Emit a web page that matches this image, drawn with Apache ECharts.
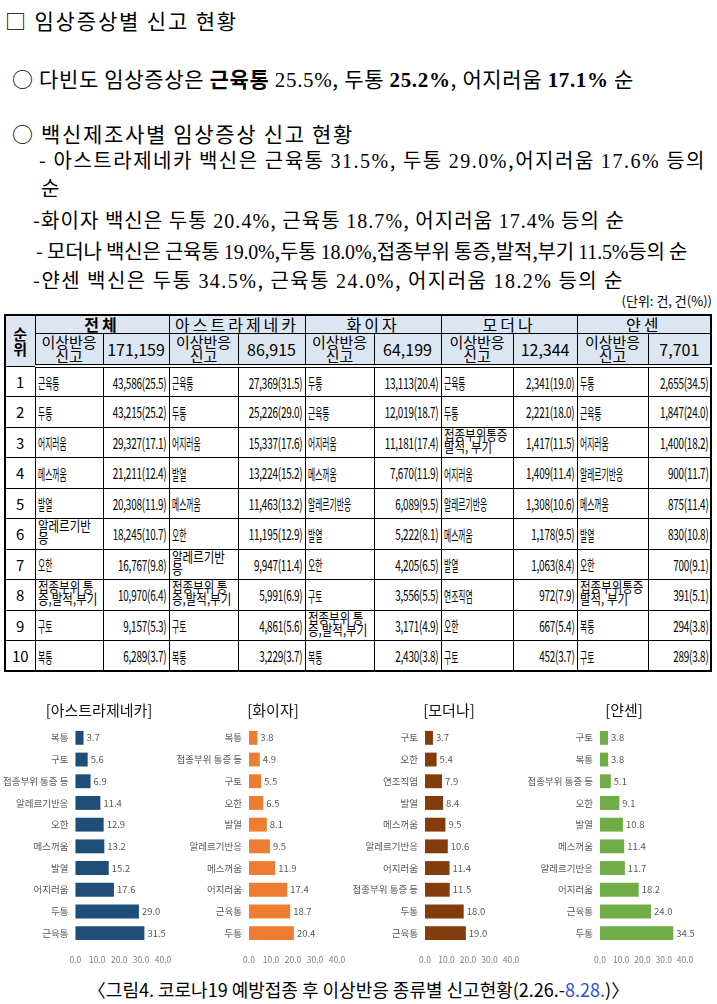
<!DOCTYPE html>
<html>
<head>
<meta charset="utf-8">
<script src="https://cdn.jsdelivr.net/npm/echarts@6/dist/echarts.min.js"></script>
<style>
body{margin:0;background:#fff;}
#page{position:relative;width:717px;height:1004px;overflow:hidden;font-family:"Noto Sans CJK KR",sans-serif;color:#000;}
.ln{position:absolute;white-space:nowrap;line-height:24px;font-size:20px;}
.n{font-family:"Liberation Serif",serif;}
#tbl{position:absolute;left:4px;top:314px;width:706px;border-collapse:collapse;table-layout:fixed;border:2px solid #000;}
#tbl td,#tbl th{border:1px solid #000;padding:0;overflow:hidden;}
#tbl th{background:#dce6f1;font-weight:normal;}
#tbl .grp{font-size:16px;letter-spacing:3px;height:17px;line-height:17px;}
#tbl .rk{font-size:15px;font-weight:bold;line-height:15px;}
#tbl .sub{font-size:15px;line-height:14px;height:30px;border-bottom:4px double #000;}
#tbl .tot{font-size:16px;border-bottom:4px double #000;}
#tbl tbody tr{height:30.5px;}
#tbl .no{text-align:center;font-size:15px;}
#tbl .nm{text-align:left;padding-left:2px;}
.c{display:inline-block;white-space:nowrap;font-size:15px;line-height:13px;transform:scaleX(.52);transform-origin:left center;}
.c2{display:inline-block;white-space:nowrap;font-size:14px;line-height:12px;transform:scaleX(.82);transform-origin:left center;}
.vw{display:flex;justify-content:flex-end;padding-right:2px;}
.cv{flex:none;white-space:nowrap;font-size:15px;transform:scaleX(.66);transform-origin:right center;letter-spacing:-0.3px;}
#charts{position:absolute;left:0;top:690px;width:717px;height:285px;}
#cap{position:absolute;left:0;width:717px;top:977px;text-align:center;font-size:18px;line-height:24px;white-space:nowrap;}
</style>
</head>
<body>
<div id="page">
  <div class="ln" style="left:5px;top:8px;font-size:21px;" data-w="233">□ 임상증상별 신고 현황</div>
  <div class="ln" style="left:12px;top:66px;font-size:21px;" data-w="622">○ 다빈도 임상증상은 <b>근육통</b> <span class="n">25.5%</span>, 두통 <b class="n">25.2%</b>, 어지러움 <b class="n">17.1%</b> 순</div>
  <div class="ln" style="left:12px;top:121px;font-size:21px;" data-w="342">○ 백신제조사별 임상증상 신고 현황</div>
  <div class="ln" style="left:39px;top:148px;" data-w="667">- 아스트라제네카 백신은 근육통 <span class="n">31.5%</span>, 두통 <span class="n">29.0%</span>,어지러움 <span class="n">17.6%</span> 등의</div>
  <div class="ln" style="left:41px;top:176px;">순</div>
  <div class="ln" style="left:33px;top:208px;" data-w="592">-화이자 백신은 두통 <span class="n">20.4%</span>, 근육통 <span class="n">18.7%</span>, 어지러움 <span class="n">17.4%</span> 등의 순</div>
  <div class="ln" style="left:36px;top:239px;" data-w="651">-  모더나 백신은 근육통 <span class="n">19.0%</span>,두통 <span class="n">18.0%</span>,접종부위 통증,발적,부기 <span class="n">11.5%</span>등의 순</div>
  <div class="ln" style="left:33px;top:268px;" data-w="591">-얀센 백신은 두통 <span class="n">34.5%</span>, 근육통 <span class="n">24.0%</span>, 어지러움 <span class="n">18.2%</span> 등의 순</div>
  <div class="ln" style="right:5px;top:291px;font-size:13px;line-height:20px;">(단위: 건, 건(%))</div>

  <table id="tbl">
    <colgroup>
      <col style="width:30px"><col style="width:68px"><col style="width:66px"><col style="width:69px"><col style="width:67px">
      <col style="width:69px"><col style="width:67px"><col style="width:72px"><col style="width:64px"><col style="width:71px"><col style="width:63px">
    </colgroup>
    <thead id="thead"></thead>
    <tbody id="tbody"></tbody>
  </table>

  <div id="charts"></div>
  <div id="cap">〈그림4. 코로나19 예방접종 후 이상반응 종류별 신고현황(2.26.-<span style="color:#2f4fd8">8.28.</span>)〉</div>
</div>
<script>
// 표 데이터
var groups = ['전체', '아스트라제네카', '화이자', '모더나', '얀센'];
var totals = ['171,159', '86,915', '64,199', '12,344', '7,701'];
var allNames = ['근육통', '두통', '어지러움', '메스꺼움', '발열', '알레르기반<br>응', '오한', '접종부위 통<br>증,발적,부기', '구토', '복통'];
var allVals = ['43,586(25.5)', '43,215(25.2)', '29,327(17.1)', '21,211(12.4)', '20,308(11.9)', '18,245(10.7)', '16,767(9.8)', '10,970(6.4)', '9,157(5.3)', '6,289(3.7)'];
var azNames = ['근육통', '두통', '어지러움', '발열', '메스꺼움', '오한', '알레르기반<br>응', '접종부위 통<br>증,발적,부기', '구토', '복통'];
var azVals = ['27,369(31.5)', '25,226(29.0)', '15,337(17.6)', '13,224(15.2)', '11,463(13.2)', '11,195(12.9)', '9,947(11.4)', '5,991(6.9)', '4,861(5.6)', '3,229(3.7)'];
var pfNames = ['두통', '근육통', '어지러움', '메스꺼움', '알레르기반응', '발열', '오한', '구토', '접종부위 통<br>증,발적,부기', '복통'];
var pfVals = ['13,113(20.4)', '12,019(18.7)', '11,181(17.4)', '7,670(11.9)', '6,089(9.5)', '5,222(8.1)', '4,205(6.5)', '3,556(5.5)', '3,171(4.9)', '2,430(3.8)'];
var mdNames = ['근육통', '두통', '접종부위통증<br>발적, 부기', '어지러움', '알레르기반응', '메스꺼움', '발열', '연조직염', '오한', '구토'];
var mdVals = ['2,341(19.0)', '2,221(18.0)', '1,417(11.5)', '1,409(11.4)', '1,308(10.6)', '1,178(9.5)', '1,063(8.4)', '972(7.9)', '667(5.4)', '452(3.7)'];
var jsNames = ['두통', '근육통', '어지러움', '알레르기반응', '메스꺼움', '발열', '오한', '접종부위통증<br>발적, 부기', '복통', '구토'];
var jsVals = ['2,655(34.5)', '1,847(24.0)', '1,400(18.2)', '900(11.7)', '875(11.4)', '830(10.8)', '700(9.1)', '391(5.1)', '294(3.8)', '289(3.8)'];

// 차트 데이터 (위에서 아래 순서)
var azCats = ['복통', '구토', '접종부위 통증 등', '알레르기반응', '오한', '메스꺼움', '발열', '어지러움', '두통', '근육통'];
var azPct = [3.7, 5.6, 6.9, 11.4, 12.9, 13.2, 15.2, 17.6, 29.0, 31.5];
var pfCats = ['복통', '접종부위 통증 등', '구토', '오한', '발열', '알레르기반응', '메스꺼움', '어지러움', '근육통', '두통'];
var pfPct = [3.8, 4.9, 5.5, 6.5, 8.1, 9.5, 11.9, 17.4, 18.7, 20.4];
var mdCats = ['구토', '오한', '연조직염', '발열', '메스꺼움', '알레르기반응', '어지러움', '접종부위 통증 등', '두통', '근육통'];
var mdPct = [3.7, 5.4, 7.9, 8.4, 9.5, 10.6, 11.4, 11.5, 18.0, 19.0];
var jsCats = ['구토', '복통', '접종부위 통증 등', '오한', '발열', '메스꺼움', '알레르기반응', '어지러움', '근육통', '두통'];
var jsPct = [3.8, 3.8, 5.1, 9.1, 10.8, 11.4, 11.7, 18.2, 24.0, 34.5];
var chartTitles = ['[아스트라제네카]', '[화이자]', '[모더나]', '[얀센]'];
var xTicks = [0, 10, 20, 30, 40];

// 본문 줄 폭 맞추기
document.querySelectorAll('.ln[data-w]').forEach(function (el) {
    var w = el.getBoundingClientRect().width;
    var n = el.textContent.length;
    el.style.letterSpacing = ((+el.getAttribute('data-w') - w) / n) + 'px';
});

// 표 만들기
var h1 = '<tr><th rowspan="2" class="rk">순<br>위</th>';
var h2 = '<tr>';
groups.forEach(function (g, i) {
    h1 += '<th colspan="2" class="grp"' + (i === 0 ? ' style="font-weight:bold"' : '') + '>' + g + '</th>';
    h2 += '<th class="sub">이상반응<br>신고</th><th class="tot">' + totals[i] + '</th>';
});
document.getElementById('thead').innerHTML = h1 + '</tr>' + h2 + '</tr>';

var colNames = [allNames, azNames, pfNames, mdNames, jsNames];
var colVals = [allVals, azVals, pfVals, mdVals, jsVals];
var body = '';
for (var r = 0; r < 10; r++) {
    body += '<tr><td class="no">' + (r + 1) + '</td>';
    for (var g = 0; g < 5; g++) {
        var nm = colNames[g][r];
        var cls = nm.indexOf('<br>') >= 0 ? 'c2' : 'c';
        body += '<td class="nm"><span class="' + cls + '">' + nm + '</span></td>';
        body += '<td><div class="vw"><span class="cv">' + colVals[g][r] + '</span></div></td>';
    }
    body += '</tr>';
}
document.getElementById('tbody').innerHTML = body;

// 막대 차트 4개
var chart = echarts.init(document.getElementById('charts'));
var cats = [azCats, pfCats, mdCats, jsCats];
var pcts = [azPct, pfPct, mdPct, jsPct];
var colors = ['#1f4e79', '#ed7d31', '#843c0c', '#70ad47'];
var gridLeft = [75, 249, 425, 600];
var gridWidth = [88, 88, 86, 85];
var titleX = [94, 268, 444, 619];

var option = {
    animation: false,
    textStyle: {fontFamily: 'Noto Sans CJK KR'},
    title: [],
    grid: [],
    xAxis: [],
    yAxis: [],
    series: []
};
for (var i = 0; i < 4; i++) {
    option.title.push({
        text: chartTitles[i],
        left: titleX[i],
        top: 8,
        textAlign: 'center',
        textStyle: {fontSize: 15, fontWeight: 'normal', color: '#111', fontFamily: 'Noto Sans CJK KR'}
    });
    option.grid.push({left: gridLeft[i], width: gridWidth[i], top: 37, height: 217});
    option.xAxis.push({
        type: 'value', gridIndex: i,
        min: xTicks[0], max: xTicks[xTicks.length - 1], interval: xTicks[1] - xTicks[0],
        splitLine: {show: false}, axisLine: {show: false}, axisTick: {show: false},
        axisLabel: {fontSize: 8.5, color: '#808080', margin: 12, formatter: function (v) { return v.toFixed(1); }}
    });
    option.yAxis.push({
        type: 'category', gridIndex: i, data: cats[i], inverse: true,
        axisLine: {show: false}, axisTick: {show: false},
        axisLabel: {fontSize: 9.5, color: '#595959', margin: 7}
    });
    option.series.push({
        type: 'bar', xAxisIndex: i, yAxisIndex: i, data: pcts[i],
        barCategoryGap: '36%',
        itemStyle: {color: colors[i]},
        label: {show: true, position: 'right', distance: 3, fontSize: 9.5, color: '#595959',
            formatter: function (p) { return p.value.toFixed(1); }}
    });
}
chart.setOption(option);
</script>
</body>
</html>
